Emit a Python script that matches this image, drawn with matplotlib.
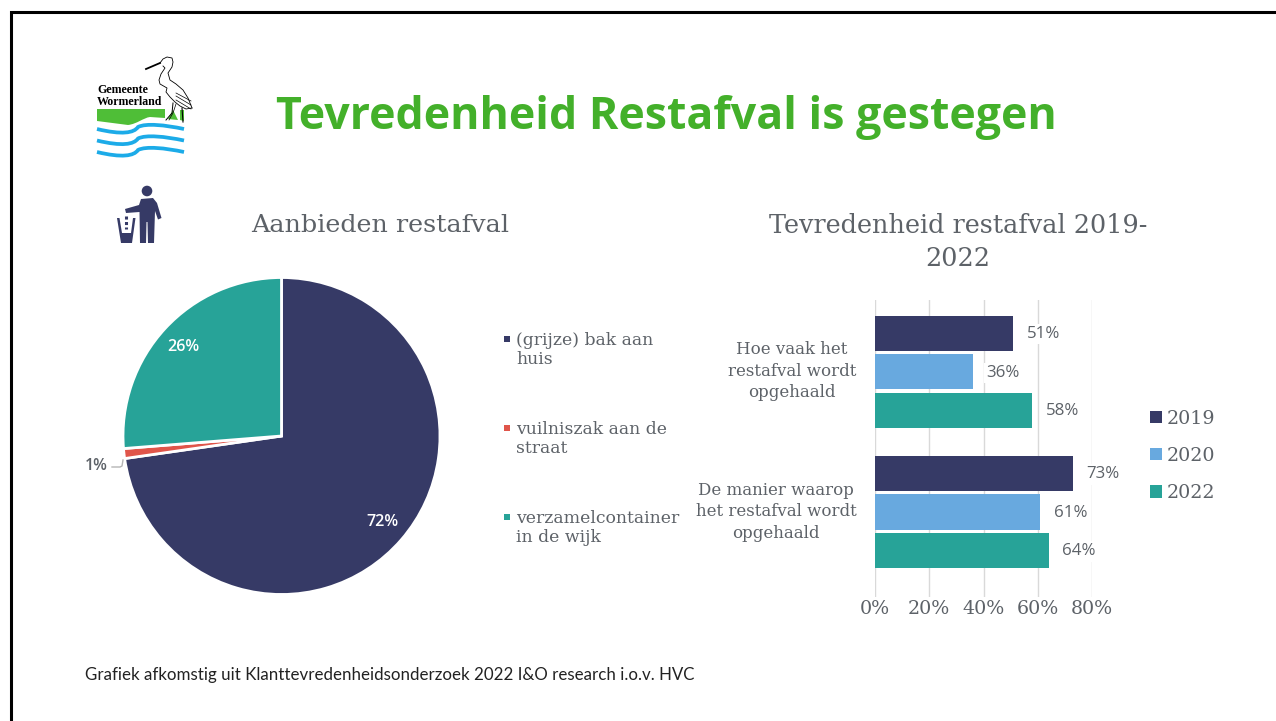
"""Slide: Tevredenheid Restafval is gestegen."""

import matplotlib
matplotlib.use("Agg")
import matplotlib.pyplot as plt
import numpy as np
from matplotlib.patches import Circle, PathPatch, Polygon
from matplotlib.path import Path

W, H = 1276, 721

NAVY = "#363a66"
BLUE = "#68a9df"
TEAL = "#27a398"
RED = "#e0554a"
GREY = "#5d6268"
SERIF = "DejaVu Serif"
SANS = "Open Sans"

TITLE = "Tevredenheid Restafval is gestegen"
FOOTER = "Grafiek afkomstig uit Klanttevredenheidsonderzoek 2022 I&O research i.o.v. HVC"

pie_labels = ["(grijze) bak aan\nhuis", "vuilniszak aan de\nstraat", "verzamelcontainer\nin de wijk"]
pie_values = [72, 1, 26]

bar_categories = ["Hoe vaak het\nrestafval wordt\nopgehaald", "De manier waarop\nhet restafval wordt\nopgehaald"]
bar_years = ["2019", "2020", "2022"]
values_2019 = [51, 73]
values_2020 = [36, 61]
values_2022 = [58, 64]
x_ticks = [0, 20, 40, 60, 80]


def px_axes(fig, left, top, right, bottom):
    return fig.add_axes([left / W, 1 - bottom / H, (right - left) / W, (bottom - top) / H])


def draw_logo(ax):
    c4, ln = Path.CURVE4, Path.LINETO
    green = Path([(97, 109), (165, 109), (165, 118), (150, 117), (143, 118), (137, 124), (128, 125),
                  (97, 121), (97, 109)],
                 [Path.MOVETO, ln, ln, ln, c4, c4, c4, ln, Path.CLOSEPOLY])
    ax.add_patch(PathPatch(green, fc="#4fbe37", ec="none"))
    ax.add_patch(Polygon([(168, 119), (173, 110), (178, 120)], fc="#4fbe37", ec="none"))
    ax.add_patch(Polygon([(180, 120), (180, 110), (184, 110), (184, 121)], fc="#4fbe37", ec="none"))
    for dy in (0, 11.5, 23):
        wave = Path([(97, 129 + dy), (122, 135 + dy), (134, 133 + dy), (138, 127 + dy),
                     (146, 123 + dy), (165, 125 + dy), (184, 129 + dy)],
                    [Path.MOVETO, c4, c4, c4, c4, c4, c4])
        ax.add_patch(PathPatch(wave, fc="none", ec="#1cabe8", lw=2.7, capstyle="butt"))
    ax.text(97, 90, "Gemeente", family="Liberation Serif", weight="bold", fontsize=8.6,
            color="black", va="center")
    ax.text(97, 102, "Wormerland", family="Liberation Serif", weight="bold", fontsize=8.6,
            color="black", va="center")
    # stork
    ax.plot([146, 160], [69, 63], color="black", lw=1.3)
    ax.plot([160, 163, 167, 172, 173, 172, 168, 170, 176, 183, 188, 192],
            [63, 59, 57, 58, 62, 67, 73, 80, 84, 90, 98, 108], color="black", lw=0.6)
    ax.plot([163, 165, 161, 159, 160, 167, 166, 170, 175, 180, 186, 192],
            [66, 68, 74, 80, 84, 88, 92, 97, 102, 106, 109, 108], color="black", lw=0.6)
    for y0, y1 in ((93, 100), (96, 104), (100, 108)):
        ax.plot([176, 191], [y0, y1 + 1], color="black", lw=0.5)
    ax.plot([173, 172, 166], [103, 113, 120], color="black", lw=0.7)
    ax.plot([176, 173, 169], [104, 113, 120], color="black", lw=0.5)
    ax.plot([182, 183], [108, 122], color="black", lw=0.8)


def draw_icon(ax):
    ax.add_patch(Circle((147, 191), 5.3, fc=NAVY, ec="none"))
    ax.add_patch(Polygon([(125, 209), (139, 205), (141, 199), (153, 198), (157, 203), (161.5, 218),
                          (158, 219.5), (155, 211), (154, 243), (148, 243), (147.5, 222), (146.5, 222),
                          (146, 243), (140, 243), (139.5, 212), (126, 213)], fc=NAVY, ec="none"))
    ax.add_patch(Polygon([(117, 218), (121, 243), (132, 243), (135.5, 218), (133, 218), (131, 233),
                          (122, 233), (119.5, 218)], fc=NAVY, ec="none"))
    ax.plot([126, 126], [216, 229], color=NAVY, lw=2.2, ls=(0, (1, 0.8)))


plt.rcParams["font.family"] = SANS

fig = plt.figure(figsize=(W / 100, H / 100), dpi=100)
fig.patch.set_facecolor("white")

deco = px_axes(fig, 0, 0, W, H)
deco.set_xlim(0, W)
deco.set_ylim(H, 0)
deco.axis("off")
deco.set_zorder(10)

deco.plot([11, 11, W], [H, 11.5, 11.5], color="black", lw=2.2, solid_joinstyle="miter")
draw_logo(deco)
draw_icon(deco)

deco.text(666, 118, TITLE, family=SANS, weight="bold", fontsize=32.2, color="#43b02a",
          ha="center", va="center")
deco.text(380, 226, "Aanbieden restafval", family=SERIF, fontsize=18.3, color=GREY,
          ha="center", va="center")
deco.text(958, 242, "Tevredenheid restafval 2019-\n2022", family=SERIF, fontsize=18.4, color=GREY,
          ha="center", va="center", linespacing=1.38)
deco.text(85, 675, FOOTER, family="Lato", fontsize=12.2, color="#222222", va="center")

# pie
ax_pie = px_axes(fig, 123, 277.5, 440, 594.5)
wedges, _ = ax_pie.pie(pie_values, colors=[NAVY, RED, TEAL], startangle=90, counterclock=False,
                       wedgeprops=dict(edgecolor="white", linewidth=2))
ax_pie.set_xlim(-1, 1)
ax_pie.set_ylim(-1, 1)
for w in wedges:
    w.set_clip_on(False)

label_pos = [(382, 522, "white"), (96, 466, GREY), (183, 347, "white")]
for (x, y, col), v in zip(label_pos, pie_values):
    deco.text(x, y, f"{v}%", family=SANS, weight="semibold", fontsize=11.5, color=col,
              ha="center", va="center")
deco.plot([112, 120, 122, 123], [467, 467, 466, 460], color="#b5b5b5", lw=1)

for lab, col, y in zip(pie_labels, (NAVY, RED, TEAL), (350, 439, 528)):
    deco.scatter([506.5], [y - 11], marker="s", s=13, color=col, linewidths=0)
    deco.text(516, y, lab, family=SERIF, fontsize=12.4, color=GREY, va="center")

# bars
ax_bar = px_axes(fig, 875, 300, 1092, 597)
bar_pos = np.arange(len(bar_categories))
bar_h = 0.25
series = [values_2019, values_2020, values_2022]
bar_colors = [NAVY, BLUE, TEAL]
for i, (vals, col, year) in enumerate(zip(series, bar_colors, bar_years)):
    bars = ax_bar.barh(bar_pos + (i - 1) * 0.275, vals, height=bar_h, color=col, label=year, zorder=3)
    for rect, v in zip(bars, vals):
        ax_bar.text(v + 5, rect.get_y() + bar_h / 2 + 0.007, f"{v}%", family=SANS, fontsize=12.2,
                    color=GREY, va="center", zorder=4, clip_on=False,
                    bbox=dict(fc="white", ec="none", pad=1.5))
ax_bar.set_xlim(0, 80)
ax_bar.set_ylim(1.607, -0.514)
ax_bar.set_xticks(x_ticks)
ax_bar.set_xticklabels([f"{t}%" for t in x_ticks], family=SERIF, fontsize=13.7, color=GREY)
ax_bar.set_yticks(bar_pos)
ax_bar.set_yticklabels([])
ax_bar.tick_params(length=0, pad=2)
ax_bar.grid(axis="x", color="#d9d9d9", lw=1, zorder=0)
ax_bar.set_axisbelow(True)
for s in ax_bar.spines.values():
    s.set_visible(False)
for cat, x, y in zip(bar_categories, (792, 776), (371, 512)):
    deco.text(x, y, cat, family=SERIF, fontsize=12, color=GREY,
              ha="center", va="center", linespacing=1.32)

handles, labels = ax_bar.get_legend_handles_labels()
fig.legend(handles, labels, loc="upper left", bbox_to_anchor=(1150 / W, 1 - 410 / H), frameon=False,
           prop=dict(family=SERIF, size=13.7), labelcolor=GREY, handlelength=0.62,
           handleheight=0.62, handletextpad=0.25, labelspacing=1.0, borderpad=0, borderaxespad=0)

fig.savefig("out.png", dpi=100)
plt.close(fig)
